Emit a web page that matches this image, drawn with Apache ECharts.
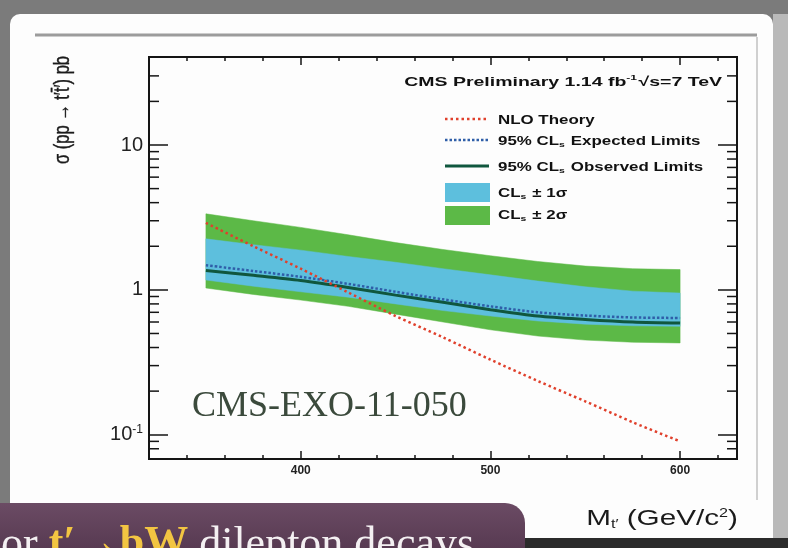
<!DOCTYPE html>
<html><head><meta charset="utf-8">
<script src="https://cdn.jsdelivr.net/npm/echarts@6/dist/echarts.min.js"></script>
<style>html,body{margin:0;padding:0;background:#7b7b7b}#c{width:788px;height:548px}</style>
</head><body><div id="c"></div><script>
// ---- data ----
const massBand = [350, 375, 400, 425, 450, 475, 500, 525, 550, 575, 600];
const upper2 = [3.35, 3.0, 2.7, 2.4, 2.12, 1.9, 1.72, 1.57, 1.46, 1.40, 1.38];
const upper1 = [2.25, 2.05, 1.88, 1.7, 1.55, 1.4, 1.27, 1.15, 1.05, 0.98, 0.95];
const lower1 = [1.17, 1.06, 0.97, 0.89, 0.80, 0.72, 0.66, 0.61, 0.58, 0.565, 0.56];
const lower2 = [1.03, 0.93, 0.85, 0.77, 0.68, 0.60, 0.53, 0.48, 0.45, 0.435, 0.43];
const expected = [1.48, 1.35, 1.23, 1.10, 0.97, 0.86, 0.77, 0.70, 0.665, 0.645, 0.64];
const observed = [1.36, 1.26, 1.16, 1.04, 0.92, 0.82, 0.73, 0.66, 0.625, 0.60, 0.59];
const theoryMass = [350, 375, 400, 425, 450, 475, 500, 525, 550, 575, 600];
const theory = [2.9, 2.0, 1.4, 0.96, 0.66, 0.47, 0.33, 0.235, 0.17, 0.122, 0.09];
const xMajorTicks = [400, 500, 600];
const xMinorTicks = [340, 360, 380, 420, 440, 460, 480, 520, 540, 560, 580, 620];
const yMinorTicks = [0.08, 0.09, 0.2, 0.3, 0.4, 0.5, 0.6, 0.7, 0.8, 0.9, 2, 3, 4, 5, 6, 7, 8, 9, 20, 30];
const X_MIN = 320, X_MAX = 630, Y_MIN = 0.068, Y_MAX = 40.5;

const pair = (xs, ys) => xs.map((x, i) => [x, ys[i]]);

const chart = echarts.init(document.getElementById('c'), null, {renderer: 'canvas'});
const FONT = 'Liberation Sans, Arial, sans-serif';
const tickStyle = {color: '#151515', width: 1.5};

function yLabel(v) {
  if (Math.abs(v - 10) < 1e-9) return '{n|10}';
  if (Math.abs(v - 1) < 1e-9) return '{n|1}';
  if (Math.abs(v - 0.1) < 1e-9) return '{n|10}{s|-1}';
  return '';
}

// band polygon between two edges, drawn through the axes' scales
function bandSeries(name, hi, lo, color, z) {
  return {type: 'custom', name: name, silent: true, z: z, clip: true,
    data: massBand.map((m, i) => [m, lo[i], hi[i]]),
    encode: {x: 0, y: [1, 2]},
    renderItem: function (params, api) {
      if (params.dataIndex !== 0) return null;
      const top = massBand.map((m, i) => api.coord([m, hi[i]]));
      const bot = massBand.map((m, i) => api.coord([m, lo[i]])).reverse();
      return {type: 'polygon', shape: {points: top.concat(bot)}, style: {fill: color, stroke: color, lineWidth: 0.5}};
    }};
}

const legendRich = {
  a: {fontFamily: FONT, fontWeight: 'bold', fontSize: 13, fill: '#111'},
  s: {fontFamily: FONT, fontWeight: 'bold', fontSize: 8, fill: '#111', padding: [7, 1, 0, 0]}
};
function legendText(x, y, text) {
  return {type: 'text', x: x, y: y, scaleX: 1.3, z: 20,
    style: {text: text, rich: legendRich, textVerticalAlign: 'middle', textAlign: 'left'}};
}

const option = {
  animation: false,
  backgroundColor: '#7b7b7b',
  grid: {left: 149, right: 51, top: 57, bottom: 89, show: true, borderColor: '#151515', borderWidth: 2,
         backgroundColor: 'transparent', containLabel: false, outerBoundsMode: 'none'},
  xAxis: [
    {type: 'value', min: X_MIN, max: X_MAX, position: 'bottom',
     axisLine: {show: false}, splitLine: {show: false},
     axisTick: {inside: true, length: 8, customValues: xMajorTicks, lineStyle: tickStyle},
     axisLabel: {customValues: xMajorTicks, margin: 6, fontFamily: FONT, fontSize: 12, fontWeight: 'bold', color: '#222'}},
    {type: 'value', min: X_MIN, max: X_MAX, position: 'top',
     axisLine: {show: false}, splitLine: {show: false}, axisLabel: {show: false},
     axisTick: {inside: true, length: 8, customValues: xMajorTicks, lineStyle: tickStyle}},
    {type: 'value', min: X_MIN, max: X_MAX, position: 'bottom',
     axisLine: {show: false}, splitLine: {show: false}, axisLabel: {show: false},
     axisTick: {inside: true, length: 4, customValues: xMinorTicks, lineStyle: tickStyle}},
    {type: 'value', min: X_MIN, max: X_MAX, position: 'top',
     axisLine: {show: false}, splitLine: {show: false}, axisLabel: {show: false},
     axisTick: {inside: true, length: 4, customValues: xMinorTicks, lineStyle: tickStyle}}
  ],
  yAxis: [
    {type: 'log', logBase: 10, min: Y_MIN, max: Y_MAX, position: 'left',
     axisLine: {show: false}, splitLine: {show: false}, minorTick: {show: false},
     axisTick: {inside: true, length: 19, lineStyle: tickStyle},
     axisLabel: {margin: 6, formatter: yLabel,
       rich: {n: {fontFamily: FONT, fontSize: 20, color: '#222'},
              s: {fontFamily: FONT, fontSize: 12, color: '#222', padding: [0, 0, 10, 0]}}}},
    {type: 'log', logBase: 10, min: Y_MIN, max: Y_MAX, position: 'right',
     axisLine: {show: false}, splitLine: {show: false}, axisLabel: {show: false},
     axisTick: {inside: true, length: 19, lineStyle: tickStyle}}
  ],
  series: [
    bandSeries('CLs ± 2σ', upper2, lower2, '#5cb947', 1),
    bandSeries('CLs ± 1σ', upper1, lower1, '#5dbfdd', 2),
    {type: 'line', name: '95% CLs Observed Limits', data: pair(massBand, observed), smooth: 0.3, symbol: 'none',
     lineStyle: {color: '#10573e', width: 3}, z: 3},
    {type: 'line', name: '95% CLs Expected Limits', data: pair(massBand, expected), smooth: 0.3, symbol: 'none',
     lineStyle: {color: '#2f5ea8', width: 2.5, type: [2.5, 2]}, z: 4},
    {type: 'line', name: 'NLO Theory', data: pair(theoryMass, theory), smooth: 0.3, symbol: 'none',
     lineStyle: {color: '#e0402c', width: 2.5, type: [2.5, 3]}, z: 5},
    {type: 'custom', name: 'yMinorTicks', silent: true, z: 6, clip: false,
     data: yMinorTicks.map(v => [X_MIN, v]),
     renderItem: function (params, api) {
       const cs = params.coordSys;
       const y = api.coord([X_MIN, api.value(1)])[1];
       const st = {stroke: '#151515', lineWidth: 1.5};
       return {type: 'group', children: [
         {type: 'line', shape: {x1: cs.x, y1: y, x2: cs.x + 10, y2: y}, style: st},
         {type: 'line', shape: {x1: cs.x + cs.width - 10, y1: y, x2: cs.x + cs.width, y2: y}, style: st}
       ]};
     }}
  ],
  graphic: [
    // slide background pieces
    {type: 'rect', z: -10, shape: {x: 10, y: 14, width: 763, height: 534, r: [10, 10, 0, 0]}, style: {fill: '#fdfdfd'}},
    {type: 'rect', z: -9, shape: {x: 773, y: 14, width: 15, height: 534}, style: {fill: '#b9b9b9'}},
    {type: 'line', z: -8, shape: {x1: 35, y1: 35, x2: 757, y2: 35}, style: {stroke: '#9c9c9c', lineWidth: 3}},
    {type: 'line', z: -8, shape: {x1: 757, y1: 37, x2: 757, y2: 500}, style: {stroke: '#c0c0c0', lineWidth: 1.5}},
    {type: 'rect', z: 30, shape: {x: -30, y: 503, width: 555, height: 70, r: 20},
     style: {fill: new echarts.graphic.LinearGradient(0, 0, 0, 1, [{offset: 0, color: '#6b4b64'}, {offset: 1, color: '#4d3148'}])}},
    {type: 'rect', z: 30, shape: {x: 525, y: 538, width: 263, height: 10}, style: {fill: '#2b2b2b'}},
    {type: 'text', z: 31, x: 1, y: 523,
     style: {text: '{w|or }{y|t′→bW}{w| dilepton decays}', textVerticalAlign: 'top',
       rich: {w: {fontFamily: 'Liberation Serif, Times New Roman, serif', fontSize: 44, fill: '#f4f0f2'},
              y: {fontFamily: 'Liberation Serif, Times New Roman, serif', fontSize: 44, fontWeight: 'bold', fill: '#f2c542'}}}},
    // watermark
    {type: 'text', z: 15, x: 192, y: 407,
     style: {text: 'CMS-EXO-11-050', fontFamily: 'Liberation Serif, Times New Roman, serif', fontSize: 36,
       fill: '#3b4a3c', textVerticalAlign: 'middle', shadowColor: 'rgba(0,0,0,0.25)', shadowBlur: 2}},
    // header
    {type: 'text', z: 20, x: 722, y: 82, scaleX: 1.5,
     style: {text: '{a|CMS Preliminary 1.14 fb}{u|-1}{a|√s=7 TeV}', textAlign: 'right', textVerticalAlign: 'middle',
       rich: {a: {fontFamily: FONT, fontWeight: 'bold', fontSize: 13, fill: '#111'},
              u: {fontFamily: FONT, fontWeight: 'bold', fontSize: 8, fill: '#111', padding: [0, 1, 8, 0]}}}},
    // legend swatches
    {type: 'line', z: 20, shape: {x1: 445, y1: 119, x2: 489, y2: 119}, style: {stroke: '#e0402c', lineWidth: 2.5, lineDash: [2.5, 3]}},
    {type: 'line', z: 20, shape: {x1: 445, y1: 140, x2: 489, y2: 140}, style: {stroke: '#2f5ea8', lineWidth: 2.5, lineDash: [2.5, 2]}},
    {type: 'line', z: 20, shape: {x1: 445, y1: 166, x2: 489, y2: 166}, style: {stroke: '#10573e', lineWidth: 3}},
    {type: 'rect', z: 20, shape: {x: 445, y: 183, width: 45, height: 19}, style: {fill: '#5dbfdd'}},
    {type: 'rect', z: 20, shape: {x: 445, y: 206, width: 45, height: 19}, style: {fill: '#5cb947'}},
    legendText(498, 120, '{a|NLO Theory}'),
    legendText(498, 141, '{a|95% CL}{s|s}{a| Expected Limits}'),
    legendText(498, 167, '{a|95% CL}{s|s}{a| Observed Limits}'),
    legendText(498, 193, '{a|CL}{s|s}{a| ± 1σ}'),
    legendText(498, 215, '{a|CL}{s|s}{a| ± 2σ}'),
    // axis titles
    {type: 'text', z: 20, x: 63, y: 110, rotation: Math.PI / 2, scaleY: 1.35,
     style: {text: 'σ (pp → t′t̄′) pb', fontFamily: FONT, fontSize: 16.5, fill: '#1a1a1a',
       textAlign: 'center', textVerticalAlign: 'middle', stroke: '#1a1a1a', lineWidth: 0.3}},
    {type: 'text', z: 20, x: 738, y: 519, scaleX: 1.35,
     style: {text: '{m|M}{t|t′}{m| (GeV/c}{p|2}{m|)}', textAlign: 'right', textVerticalAlign: 'middle',
       rich: {m: {fontFamily: FONT, fontSize: 22, fill: '#1a1a1a'},
              t: {fontFamily: FONT, fontSize: 12, fill: '#1a1a1a', padding: [12, 0, 0, 0]},
              p: {fontFamily: FONT, fontSize: 12, fill: '#1a1a1a', padding: [0, 0, 10, 0]}}}}
  ]
};
chart.setOption(option);
</script></body></html>
